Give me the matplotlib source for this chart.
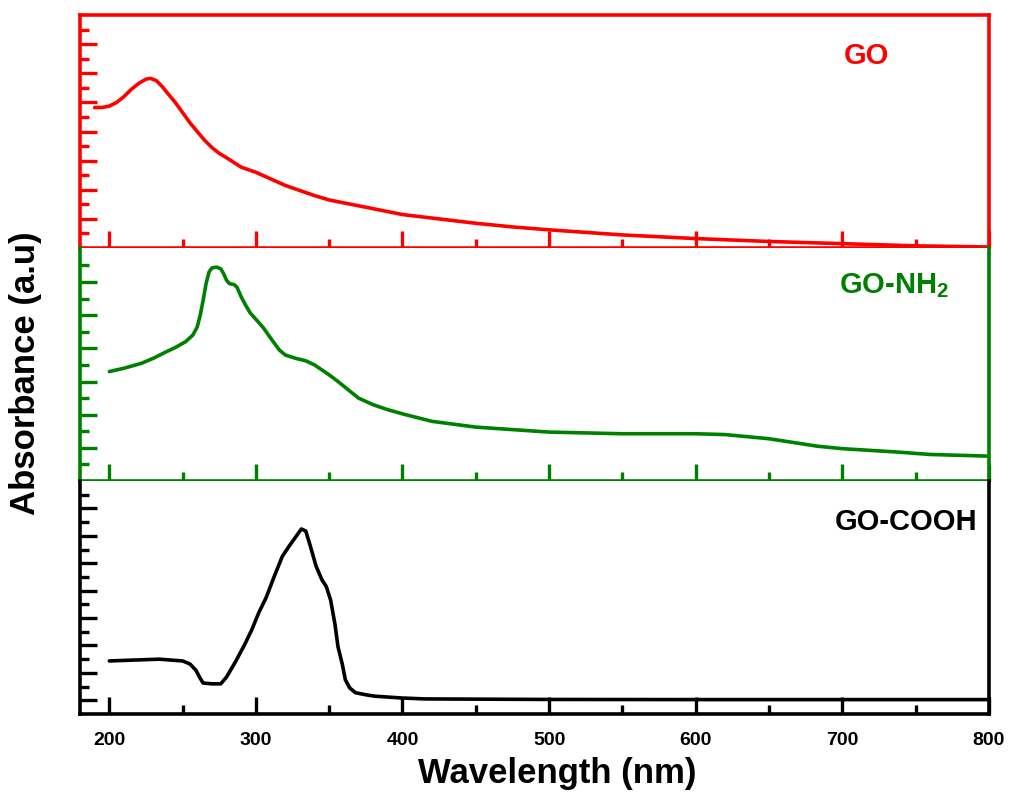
import numpy as np
import matplotlib.pyplot as plt
from matplotlib.ticker import FixedLocator, MultipleLocator

plt.rcParams['font.family'] = ['Liberation Sans', 'DejaVu Sans']
plt.rcParams['font.weight'] = 'bold'
plt.rcParams['mathtext.fontset'] = 'custom'
plt.rcParams['mathtext.rm'] = 'Liberation Sans:bold'
plt.rcParams['mathtext.bf'] = 'Liberation Sans:bold'

# GO (red)
go_wl = [190, 195, 200, 205, 210, 215, 220, 225, 228, 232, 236, 240, 245, 250, 255,
         260, 265, 270, 275, 280, 290, 300, 310, 320, 330, 340, 350, 360, 370, 380,
         400, 425, 450, 475, 500, 550, 600, 650, 700, 750, 800]
go_abs = [9.65, 9.65, 9.75, 10.0, 10.4, 10.9, 11.3, 11.6, 11.65, 11.5, 11.1, 10.6, 10.0, 9.3, 8.6,
          8.0, 7.4, 6.9, 6.5, 6.2, 5.55, 5.2, 4.75, 4.3, 3.95, 3.6, 3.3, 3.1, 2.9, 2.7,
          2.3, 2.0, 1.7, 1.45, 1.25, 0.9, 0.65, 0.45, 0.3, 0.15, 0.07]

# GO-NH2 (green)
nh2_wl = [200, 210, 222, 230, 239, 245, 252, 257, 260, 262, 264, 266, 268, 270, 273,
          276, 278, 280, 282, 285, 287, 290, 293, 296, 300, 305, 311, 316, 320, 327,
          334, 340, 345, 350, 356, 363, 370, 380, 390, 400, 420, 450, 500, 550, 600,
          620, 650, 683, 700, 737, 760, 800]
nh2_abs = [6.6, 6.8, 7.1, 7.4, 7.8, 8.05, 8.4, 8.8, 9.3, 10.0, 10.9, 11.9, 12.6, 12.85, 12.9,
           12.8, 12.5, 12.1, 11.9, 11.85, 11.7, 11.1, 10.6, 10.15, 9.75, 9.25, 8.5, 7.9, 7.6, 7.4,
           7.25, 7.0, 6.7, 6.4, 6.0, 5.5, 5.0, 4.6, 4.3, 4.05, 3.6, 3.25, 2.95, 2.85, 2.85,
           2.8, 2.55, 2.1, 1.95, 1.75, 1.6, 1.5]

# GO-COOH (black)
cooh_wl = [200, 234, 250, 255, 259, 262, 264, 270, 276, 280, 286, 292, 297, 302, 307,
           312, 318, 323, 327, 331, 334, 337, 341, 345, 348, 351, 354, 356, 359, 361,
           364, 368, 375, 381, 399, 415, 500, 600, 800]
cooh_abs = [3.87, 4.0, 3.87, 3.65, 3.2, 2.6, 2.26, 2.2, 2.2, 2.7, 3.8, 5.0, 6.1, 7.4, 8.5,
            9.9, 11.5, 12.3, 12.9, 13.5, 13.35, 12.3, 10.8, 9.8, 9.3, 8.3, 6.5, 4.9, 3.6, 2.5,
            1.9, 1.55, 1.4, 1.3, 1.17, 1.1, 1.06, 1.05, 1.05]

panels = [
    (go_wl, go_abs, '#ff0000', 'GO', 16, [2, 4, 6, 8, 10, 12, 14], 0.865, 0.823),
    (nh2_wl, nh2_abs, '#008000', r'GO-NH$_\mathbf{2}$', 14.05, [2, 4, 6, 8, 10, 12], 0.896, 0.840),
    (cooh_wl, cooh_abs, '#000000', 'GO-COOH', 17, [1, 3, 5, 7, 9, 11, 13, 15], 0.909, 0.824),
]

fig, axes = plt.subplots(3, 1, figsize=(10.09, 7.92), dpi=100, sharex=True)
fig.subplots_adjust(left=0.0793, right=0.980, top=0.981, bottom=0.0985, hspace=0)

for i, (ax, (wl, ab, col, name, ytop, majors, tx, ty)) in enumerate(zip(axes, panels)):
    ax.plot(wl, ab, color=col, lw=2.6, solid_joinstyle='round', solid_capstyle='round')
    ax.set_xlim(180, 800)
    ax.set_ylim(0, ytop)
    for s in ax.spines.values():
        s.set_color(col)
        s.set_linewidth(2.6)
    if i > 0:
        ax.spines['top'].set_visible(False)
    ax.xaxis.set_major_locator(MultipleLocator(100))
    ax.xaxis.set_minor_locator(MultipleLocator(50))
    minors = [v for v in range(1, int(ytop) + 1) if v not in majors and v < ytop - 0.5]
    ax.yaxis.set_major_locator(FixedLocator(majors))
    ax.yaxis.set_minor_locator(FixedLocator(minors))
    ax.tick_params(which='both', direction='in', color=col, width=2.4,
                   top=False, right=False, labelleft=False)
    ax.tick_params(which='major', length=12.5)
    ax.tick_params(which='minor', length=6.5)
    ax.tick_params(axis='x', labelsize=14, pad=13)
    ax.text(tx, ty, name, transform=ax.transAxes, color=col, fontsize=21,
            fontweight='bold', ha='center', va='center')

for lab in axes[2].get_xticklabels():
    lab.set_fontweight('bold')

fig.text(0.025, 0.529, 'Absorbance (a.u)', rotation=90, fontsize=25,
         fontweight='bold', ha='center', va='center')
fig.text(0.552, 0.011, 'Wavelength (nm)', fontsize=25, fontweight='bold',
         ha='center', va='baseline')

fig.savefig('out.png', dpi=100)
